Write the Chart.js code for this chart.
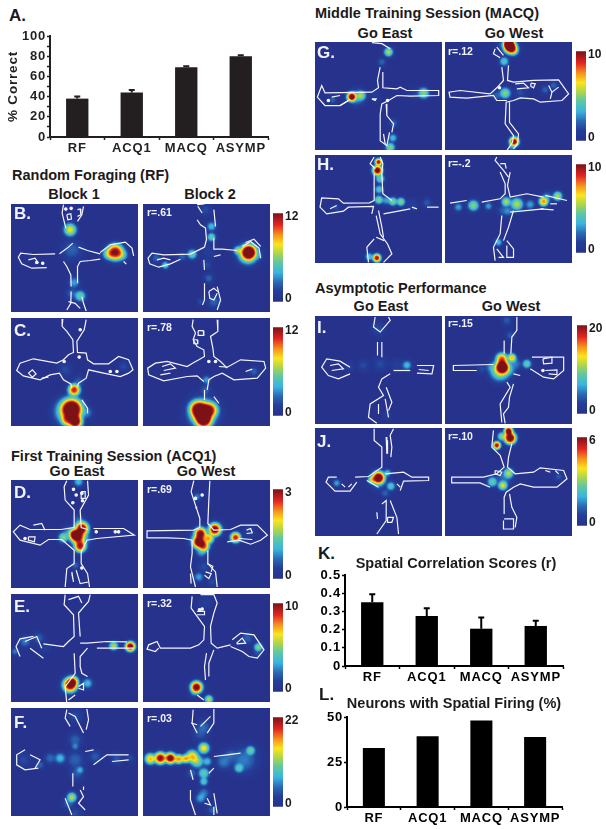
<!DOCTYPE html>
<html>
<head>
<meta charset="utf-8">
<style>
    html, body { margin: 0; background: #fff; }
    #fig { position: relative; width: 606px; height: 829px; overflow: hidden; font-family: "Liberation Sans", Arial, sans-serif; font-weight: bold; color: #1c1a1b; }
    #fig canvas { position: absolute; }
    #fig span { position: absolute; white-space: nowrap; line-height: 1; }
</style>
<script src="https://cdn.jsdelivr.net/npm/chart.js@4/dist/chart.umd.min.js"></script>
</head>
<body>
<div id="fig"></div>
<script>
    // bar panels
    const groups = ['RF', 'ACQ1', 'MACQ', 'ASYMP'];
    const correct = [38, 44, 69, 80];
    const correctTop = [40, 46.5, 70, 81];
    const spatialR = [0.35, 0.275, 0.205, 0.22];
    const spatialRTop = [0.394, 0.317, 0.266, 0.248];
    const neurons = [32.8, 39.3, 48.1, 38.9];

    // firing maps: outline runs are [x, y] tracker positions, a single pair is a dot
    // hot spots are [x, y, level, spread], level 1 = top of the colour bar
    const outlineB1 = [
        [[190,135],[186,160],[192,185],[197,205]], [[250,140],[245,165],[232,185]],
        [[200,165],[212,162],[214,178],[203,180],[200,165]], [[232,150],[240,148],[242,165],[232,170]],
        [[197,148]], [[213,146]], [[110,308]], [[128,310]],
        [[165,282],[100,284],[62,280],[55,292],[65,312],[95,325],[140,323]], [[85,300],[105,295],[115,310]],
        [[178,282],[205,262],[218,250]], [[235,262],[262,272],[300,282]],
        [[300,278],[330,255],[375,247],[395,265],[400,288]],
        [[190,305],[200,320],[212,345],[213,380]], [[213,395],[212,430],[200,450]],
        [[232,370],[232,320],[240,305],[270,302],[300,298]],
        [[245,410],[250,430],[258,453]], [[205,425],[225,430],[240,445]], [[370,305],[378,313]]
    ];
    const heatB1 = [[215,270,.2,40],[215,400,.2,20],[222,368,.3,18],[365,285,.4,20],[325,282,.5,20],[240,408,.45,18],[210,210,.62,22],[345,277,1,30]];

    const outlineB2 = [
        [[590,135],[612,133]], [[592,140],[605,160]], [[590,180],[600,195],[615,205],[618,240],[612,262]],
        [[640,150],[645,200]], [[640,235],[640,268],[665,268],[710,272]],
        [[612,262],[570,283],[490,285],[455,280],[443,295],[448,312],[475,322],[510,312],[540,298]],
        [[470,300],[490,295],[510,300]], [[725,260],[750,245],[775,265],[780,295]], [[735,248],[760,238],[780,260]],
        [[640,290],[660,285]], [[610,300],[612,330]], [[612,370],[612,420],[606,435]],
        [[625,395],[628,415],[640,420],[650,400]], [[650,380],[660,420],[650,450]], [[625,395],[640,385],[652,395]]
    ];
    const heatB2 = [[625,275,.12,28],[600,425,.15,8],[615,150,.15,20],[620,315,.15,14],[468,295,.2,14],[625,355,.2,14],[640,425,.2,22],[775,290,.2,10],[545,290,.2,14],[633,200,.35,14],[495,316,.4,10],[575,283,.45,15],[633,232,.45,12],[712,272,.5,12],[742,282,.75,38],[745,277,1.15,26]];

    const outlineC1 = [
        [[188,478],[186,500],[200,515],[218,540],[220,578],[205,585],[190,600],[170,610],[100,597],[60,610],[50,632],[70,648],[120,660],[150,645],[178,640],[190,660],[212,672],[215,685]],
        [[232,680],[235,670],[258,655],[265,630],[310,640],[360,650],[385,640],[398,630],[385,600],[355,590],[325,612],[280,612],[262,600],[258,580],[232,578],[230,545],[252,510],[258,480]],
        [[85,640],[97,630],[108,642],[97,652],[85,640]], [[125,655],[145,652]],
        [[245,720],[262,745],[262,760]], [[192,605]], [[237,592]], [[330,635]], [[350,635]], [[240,510]]
    ];
    const heatC1 = [[195,630,.15,25],[370,620,.15,15],[235,665,.18,20],[260,758,.25,20],[205,755,.6,55],[200,780,.7,20],[222,690,.9,20],[225,785,1.1,25],[215,748,1.25,42]];

    const outlineC2 = [
        [[578,480],[575,500],[585,520],[578,540],[590,560],[610,570],[612,590],[595,600],[580,608],[560,620],[500,605],[465,610],[442,625],[445,645],[490,663],[560,650],[590,648],[610,665]],
        [[612,690],[612,720]], [[650,480],[652,515],[630,530],[637,565],[640,590],[660,605],[680,625]],
        [[655,620],[680,622],[720,600],[790,605],[795,625],[770,655],[700,660],[665,640],[640,650],[625,660],[620,690]],
        [[485,620],[510,612],[525,625],[490,632]], [[480,645],[510,640]],
        [[593,513],[608,513],[610,527],[595,527],[593,513]], [[580,540],[590,540],[592,552],[580,552],[580,540]],
        [[625,605]], [[645,605]], [[735,635],[755,628]], [[640,710],[655,730]]
    ];
    const heatC2 = [[760,635,.2,14],[615,690,.2,18],[618,660,.3,12],[607,760,.55,62],[590,745,.8,30],[630,750,.8,28],[610,780,1.1,30],[605,757,1.2,40]];

    const outlineD1 = [
        [[200,122],[192,140],[195,180],[222,210],[222,262],[182,268],[90,268],[60,255],[40,275],[60,300],[120,315],[145,298],[185,298],[222,330],[222,370],[200,385],[195,440]],
        [[262,122],[265,165],[240,210],[243,262],[262,268]], [[280,265],[370,265],[402,285],[290,295],[260,300],[243,335],[243,370],[262,400],[268,440]],
        [[100,255],[125,250],[135,270]], [[85,290],[105,290],[103,305],[85,300],[85,290]],
        [[215,400],[220,425],[215,395]], [[228,390],[240,430],[265,425]],
        [[243,155],[255,155],[255,175],[243,175],[243,155]],
        [[220,148]], [[228,165]], [[245,160]], [[218,188]], [[247,182]], [[75,295]], [[288,275]], [[345,275]], [[355,275]], [[245,383]]
    ];
    const heatD1 = [[352,275,.12,10],[235,240,.2,20],[225,375,.2,12],[205,275,.25,20],[250,295,.3,30],[235,125,.35,15],[190,292,.5,16],[222,282,.9,18],[240,318,.95,20],[232,290,1.05,26],[245,265,1.05,24]];

    const outlineD2 = [
        [[580,122],[572,155],[585,195],[598,235],[598,262],[580,270],[440,272],[440,293],[500,293],[550,295],[575,300],[575,340],[570,380],[585,440]],
        [[628,122],[625,180],[622,250],[640,270],[690,268],[720,255],[770,255],[800,285],[780,300],[750,312],[715,300],[680,305]],
        [[622,330],[622,370],[645,395],[650,440]], [[738,270],[750,265],[755,278],[738,280]],
        [[615,395],[632,400],[625,415],[612,405]], [[620,370],[637,378],[632,395]], [[590,200],[585,205]],
        [[715,295],[755,298]], [[570,400],[572,430]], [[605,165]], [[585,175]]
    ];
    const heatD2 = [[745,275,.12,20],[610,380,.15,25],[635,425,.15,15],[590,170,.25,10],[595,410,.3,14],[603,335,.3,18],[600,300,.4,40],[625,295,.7,16],[610,318,.8,18],[705,292,.9,16],[600,280,1,20],[595,305,1.05,22],[643,268,1.05,22]];

    const outlineE1 = [
        [[195,465],[192,495],[220,525],[222,590],[205,605],[190,620],[130,612]], [[100,590],[60,597],[48,620],[60,650]],
        [[270,465],[265,485],[235,520],[240,590]], [[240,610],[260,610],[320,605],[380,606]], [[290,625],[400,625]],
        [[262,625],[240,650],[240,680],[245,700],[262,710]], [[222,640],[225,700],[195,740],[200,790]],
        [[205,480],[235,470],[245,490]], [[225,765],[205,780]], [[90,625],[130,655]], [[75,605],[110,590],[125,625]],
        [[235,740],[250,730],[250,750],[235,745]]
    ];
    const heatE1 = [[135,625,.12,15],[115,595,.2,20],[75,605,.25,18],[45,635,.25,8],[262,730,.35,16],[340,618,.55,13],[218,725,.8,18],[390,620,1.05,15],[210,735,1.05,26]];

    const outlineE2 = [
        [[575,470],[572,505],[590,530],[612,560],[610,600],[595,615],[570,625],[480,625],[470,605],[445,615],[440,628],[465,635],[475,625]],
        [[600,465],[640,465],[650,490],[640,520],[630,560],[632,610],[650,625],[690,615]],
        [[695,600],[720,580],[760,585],[790,630],[770,655],[745,650],[725,635],[690,620]],
        [[618,640],[612,680],[615,720]], [[640,630],[625,670],[625,710]], [[708,610],[725,595],[735,610],[708,612]],
        [[597,510]], [[605,508]], [[590,515],[612,515],[612,525],[590,525]], [[590,765],[610,780]]
    ];
    const heatE2 = [[615,490,.12,25],[770,640,.15,15],[740,595,.2,20],[580,760,.2,10],[773,622,.5,12],[625,778,.55,12],[588,742,1.05,20]];

    const outlineF1 = [
        [[200,810],[195,835],[210,860]], [[260,808],[265,840],[258,870]], [[205,820],[225,830],[240,860],[250,880]],
        [[218,1000],[218,1040]], [[195,1075],[205,1100],[215,1125]], [[240,1050],[250,1070],[235,1090],[255,1110]],
        [[75,930],[50,945],[50,975],[75,990],[115,985]], [[90,945],[120,960],[105,985]], [[255,935],[280,930]],
        [[280,975],[320,945],[385,945]], [[335,965],[385,960]], [[250,1040],[250,1050]]
    ];
    const heatF1 = [[70,960,.15,25],[225,830,.15,25],[225,1120,.15,20],[390,955,.15,12],[350,955,.17,20],[230,1000,.18,25],[285,950,.18,22],[225,960,.2,35],[225,900,.2,25],[205,1090,.2,20],[120,975,.2,12],[150,955,.22,18],[225,920,.25,10],[240,990,.3,10],[180,955,.35,18],[215,1072,.55,15]];

    const outlineF2 = [
        [[578,810],[575,850],[590,880]], [[640,808],[640,850],[620,880]], [[600,860],[630,830]], [[572,850],[590,855]],
        [[640,950],[680,945],[720,940]], [[625,1000],[640,985]], [[570,990],[578,1020]], [[570,1050],[570,1080],[585,1125]],
        [[620,1075],[630,1095],[612,1090]], [[640,1125],[640,1100]], [[640,1060],[650,1120]]
    ];
    const heatF2 = [[600,880,.18,30],[635,1110,.2,14],[610,860,.2,25],[690,945,.2,20],[575,1000,.2,15],[730,960,.25,55],[670,965,.25,30],[610,1060,.25,18],[600,1075,.3,16],[620,965,.35,14],[610,1025,.4,12],[715,985,.4,14],[610,1000,.45,18],[750,932,.45,14],[590,965,.5,22],[610,925,.65,18],[450,957,.7,18],[555,957,.7,12],[575,950,.7,22],[535,958,.75,14],[480,955,1,20],[510,955,1.05,18]];

    const outlineG1 = [
        [[215,127],[245,130],[270,145]], [[240,200],[232,240],[235,262],[215,275],[75,277],[65,255],[52,290],[75,315],[120,315],[150,297]],
        [[248,215],[248,262],[290,265],[300,260],[320,270],[415,270],[415,285],[330,287],[290,285],[265,300],[245,310],[240,340],[240,420],[260,435],[268,395]],
        [[258,310],[260,345],[280,370],[275,395]], [[250,400],[255,430]], [[95,290],[120,285]], [[145,300],[120,315]],
        [[215,295],[228,295],[225,300],[215,295]], [[85,300]], [[262,300]]
    ];
    const heatG1 = [[225,283,.1,20],[345,280,.12,20],[245,185,.2,12],[98,298,.2,10],[280,368,.2,12],[170,290,.3,30],[278,412,.35,12],[183,285,.5,15],[370,278,.5,18],[270,440,.5,14],[265,155,.55,13],[155,289,1.05,14]];

    const outlineG2 = [
        [[585,145],[580,160],[600,172]], [[590,140],[610,165]],
        [[605,200],[610,240],[590,262],[570,280],[480,270],[447,275],[450,290],[500,293],[580,285],[590,300],[620,300]],
        [[625,195],[622,240],[640,245],[700,240],[775,238],[805,280],[785,300],[720,305],[700,295],[660,292],[640,300],[618,305],[615,370],[640,405],[637,425],[620,450]],
        [[628,305],[628,365],[655,400],[652,430],[640,445]], [[645,250],[670,248],[685,262],[650,265]],
        [[692,248],[705,250],[700,262],[692,258],[692,248]], [[745,255],[755,275],[775,260]], [[755,275],[750,295]], [[598,262]]
    ];
    const heatG2 = [[600,135,.15,14],[660,275,.15,22],[590,285,.2,14],[735,268,.2,12],[760,255,.2,12],[635,440,.25,10],[612,183,.4,14],[615,278,.5,18],[640,150,.6,16],[642,423,1,14],[630,140,1.2,22],[625,130,1.2,16]];

    const outlineH1 = [
        [[222,470],[210,490],[225,505]], [[240,470],[248,490],[245,520],[248,580],[275,600]],
        [[222,520],[222,600],[208,607],[130,608],[115,595],[65,592],[60,620],[80,640],[130,632],[145,620],[220,618],[215,640]],
        [[235,630],[245,680],[250,710]], [[228,645],[240,700]], [[222,715],[200,740],[205,785]],
        [[240,700],[262,730],[275,760],[250,785]], [[228,710],[252,720]], [[90,625],[110,615]],
        [[335,620],[350,625]], [[380,620],[415,620]], [[250,640],[330,625]]
    ];
    const heatH1 = [[335,612,.12,20],[108,622,.15,10],[380,607,.18,14],[258,600,.3,12],[207,768,.4,10],[237,567,.4,12],[240,535,.45,13],[236,598,.5,12],[278,603,.5,12],[302,604,.5,12],[235,485,.95,8],[230,772,.95,11],[232,510,1.05,15]];

    const outlineH2 = [
        [[590,470],[585,480],[610,510],[625,530]], [[600,490],[615,490],[618,505]],
        [[600,515],[615,550],[615,580],[600,595],[545,605]], [[500,600],[450,608]],
        [[630,515],[622,555],[630,590],[680,580],[730,590]], [[735,585],[800,600]],
        [[605,645],[600,700],[580,740],[585,780]], [[640,630],[625,680],[610,720]],
        [[620,720],[640,745],[640,770],[620,770],[620,735]], [[590,745],[610,770],[595,770]],
        [[720,625],[760,628]], [[750,610],[770,610]], [[630,635],[730,625]]
    ];
    const heatH2 = [[610,630,.2,20],[625,632,.25,14],[740,590,.25,18],[475,620,.3,12],[565,617,.3,10],[690,612,.3,15],[595,725,.35,10],[520,615,.5,18],[618,604,.55,14],[650,611,.55,22],[772,587,.55,14],[730,603,.75,14]];

    const outlineI1 = [
        [[225,140],[220,170],[240,185],[270,150],[265,140]], [[232,215],[232,255]], [[245,215],[245,260]],
        [[150,290],[120,272],[80,265],[65,290],[85,315],[115,325],[150,310]], [[90,285],[115,280],[130,295],[95,300]],
        [[280,300],[330,300]], [[350,285],[400,285],[395,310],[350,308]], [[355,297],[385,300]],
        [[270,310],[245,325],[235,350],[250,375],[210,400],[205,440],[230,458]], [[258,350],[275,395],[265,420]],
        [[235,400],[235,430]], [[255,385],[265,440]]
    ];
    const heatI1 = [[260,435,.1,12],[150,288,.12,15],[290,285,.12,25],[240,280,.15,25],[190,285,.15,20],[235,175,.15,25],[320,284,.35,14]];

    const outlineI2 = [
        [[650,140],[650,180],[635,200],[632,250]], [[612,210],[612,250]], [[580,282],[460,285],[460,300],[530,300]],
        [[695,260],[790,260],[790,300],[760,325],[730,320],[690,295]], [[728,265],[755,260],[755,278],[730,280],[728,265]],
        [[735,300],[770,298],[770,312],[745,310]], [[728,300]], [[620,335],[630,350],[600,400],[605,455]],
        [[640,340],[628,380],[625,410],[610,430],[615,458]], [[640,310],[660,315]]
    ];
    const heatI2 = [[545,295,.15,15],[620,150,.18,16],[630,195,.18,12],[570,290,.22,14],[630,300,.25,20],[645,280,.25,22],[680,280,.45,13],[600,300,.6,40],[635,262,.7,12],[605,265,.8,20],[607,290,1.2,24]];

    const outlineJ1 = [
        [[222,475],[222,510],[245,530],[245,590],[205,618],[165,620]], [[110,620],[85,620],[78,635],[105,662],[150,662],[170,635]],
        [[280,475],[270,495],[275,530],[272,560]], [[258,500],[260,550]], [[262,510],[262,550]],
        [[255,610],[310,605],[335,620],[385,620],[385,630],[310,632],[300,660]], [[245,700],[258,690],[258,750],[230,790]],
        [[270,690],[290,740],[295,790]], [[125,640],[135,650]], [[145,650],[155,640]], [[230,725],[232,745]],
        [[262,740],[280,740],[275,755],[262,755],[262,740]], [[290,640],[300,650]], [[200,630],[235,650]]
    ];
    const heatJ1 = [[255,668,.2,12],[235,640,.2,25],[110,638,.3,10],[262,607,.35,9],[272,647,.4,13],[215,628,.6,10],[235,622,1.15,22]];

    const outlineJ2 = [
        [[580,480],[575,530],[600,555],[612,590],[590,610],[550,620],[455,620],[455,637],[540,637],[570,650]],
        [[635,520],[625,560],[622,590],[645,610],[700,605],[720,592],[790,600],[800,625],[770,650],[700,650],[660,640],[640,650],[618,665],[612,680],[612,730]],
        [[628,670],[635,710],[650,740],[645,770]], [[612,745],[640,745],[640,775],[610,775],[610,750]],
        [[735,600],[750,605]], [[765,600],[775,610]], [[585,600],[605,605],[600,615],[585,610],[585,600]]
    ];
    const heatJ2 = [[600,618,.15,14],[775,618,.18,10],[615,625,.2,25],[577,634,.45,16],[605,498,.5,12],[625,608,.55,16],[608,645,.6,14],[590,525,.95,10],[625,482,1.05,12],[630,503,1.1,20]];

    // left, top, tracker origin x, y
    const panels = [
        [11, 204, 33, 133, outlineB1, heatB1], [143, 204, 428, 133, outlineB2, heatB2],
        [11, 318, 33, 475, outlineC1, heatC1], [143, 318, 428, 475, outlineC2, heatC2],
        [11, 480, 33, 120, outlineD1, heatD1], [143, 480, 428, 120, outlineD2, heatD2],
        [11, 594, 33, 463, outlineE1, heatE1], [143, 594, 428, 463, outlineE2, heatE2],
        [11, 708, 33, 805, outlineF1, heatF1], [143, 708, 428, 805, outlineF2, heatF2],
        [315, 42, 45, 125, outlineG1, heatG1], [445, 42, 435, 125, outlineG2, heatG2],
        [315, 155, 45, 464, outlineH1, heatH1], [445, 155, 435, 464, outlineH2, heatH2],
        [315, 316, 45, 137, outlineI1, heatI1], [445, 316, 435, 137, outlineI2, heatI2],
        [315, 428, 45, 473, outlineJ1, heatJ1], [445, 428, 435, 473, outlineJ2, heatJ2]
    ];

    // left, top, height, max
    const colorBars = [
        [273, 204, 107, 12], [273, 318, 107, 12], [273, 480, 108, 3], [273, 594, 107, 10], [273, 708, 108, 22],
        [576, 42, 108, 10], [576, 155, 107, 10], [577, 316, 107, 20], [577, 428, 107, 6]
    ];

    // text, x, middle y, size, align (0 left, 1 centre)
    const titles = [
        ['A.', 9, 15, 17, 0], ['Random Foraging (RF)', 12, 175, 14.5, 0],
        ['Block 1', 74, 194, 14.5, 1], ['Block 2', 210, 194, 14.5, 1],
        ['First Training Session (ACQ1)', 11, 456, 14.5, 0], ['Go East', 77, 471, 14.5, 1], ['Go West', 206, 471, 14.5, 1],
        ['Middle Training Session (MACQ)', 315, 13, 14.5, 0], ['Go East', 385, 33, 14.5, 1], ['Go West', 514, 33, 14.5, 1],
        ['Asymptotic Performance', 315, 288, 14.5, 0], ['Go East', 381, 306, 14.5, 1], ['Go West', 511, 306, 14.5, 1],
        ['K.', 318, 553, 17, 0], ['Spatial Correlation Scores (r)', 456, 563, 14.5, 1],
        ['L.', 319, 694, 17, 0], ['Neurons with Spatial Firing (%)', 454, 703, 14.5, 1]
    ];
    const panelLetters = [
        ['B.', 14, 213], ['C.', 14, 330], ['D.', 14, 492], ['E.', 14, 606], ['F.', 14, 722],
        ['G.', 317, 52], ['H.', 317, 164], ['I.', 317, 327], ['J.', 317, 441]
    ];
    const rLabels = [
        ['r=.61', 147, 212], ['r=.78', 147, 327], ['r=.69', 147, 489], ['r=.32', 147, 603], ['r=.03', 147, 718],
        ['r=.12', 448, 51], ['r=-.2', 448, 163], ['r=.15', 448, 323], ['r=.10', 448, 436]
    ];

    // colour scale of the maps, low to high
    const jetStops = [
        [0, 38, 50, 140], [0.12, 36, 62, 152], [0.22, 44, 104, 180], [0.33, 58, 180, 226], [0.45, 96, 200, 160],
        [0.55, 176, 214, 72], [0.65, 250, 228, 30], [0.75, 246, 150, 30], [0.87, 226, 36, 34], [1, 122, 18, 22]
    ];
    const mapBlue = '#26328c';
    const inkColor = '#1c1a1b';

    Chart.defaults.font.family = '"Liberation Sans", Arial, sans-serif';
    Chart.defaults.font.weight = 'bold';
    Chart.defaults.color = inkColor;
    Chart.defaults.animation = false;
    Chart.defaults.events = [];
    Chart.defaults.plugins.legend.display = false;
    Chart.defaults.plugins.tooltip.enabled = false;

    const fig = document.getElementById('fig');

    function addCanvas(left, top, width, height) {
        const c = document.createElement('canvas');
        c.width = width;
        c.height = height;
        c.style.left = left + 'px';
        c.style.top = top + 'px';
        fig.appendChild(c);
        return c.getContext('2d');
    }

    function addText(text, x, midY, size, centred, color) {
        const s = document.createElement('span');
        s.textContent = text;
        s.style.left = x + 'px';
        s.style.top = (midY - size / 2) + 'px';
        s.style.fontSize = size + 'px';
        if (centred) s.style.transform = 'translateX(-50%)';
        if (color) s.style.color = color;
        fig.appendChild(s);
    }

    function jetColor(v) {
        v = Math.min(1, Math.max(0, v));
        for (let i = 1; i < jetStops.length; i++) {
            const a = jetStops[i - 1], b = jetStops[i];
            if (v <= b[0]) {
                const f = (v - a[0]) / (b[0] - a[0]);
                return [a[1] + (b[1] - a[1]) * f, a[2] + (b[2] - a[2]) * f, a[3] + (b[3] - a[3]) * f];
            }
        }
        return jetStops[jetStops.length - 1].slice(1);
    }

    // paints the hot spots as one merged field, using where the bubble elements were placed
    const firingField = {
        id: 'firingField',
        beforeDatasetsDraw(chart) {
            const a = chart.chartArea;
            const heatIndex = chart.data.datasets.length - 1;
            const spots = chart.getDatasetMeta(heatIndex).data.map(function (el, i) {
                return {x: el.x, y: el.y, r: el.options.radius, level: chart.data.datasets[heatIndex].data[i].level};
            });
            const w = Math.round(a.width), h = Math.round(a.height);
            const img = chart.ctx.createImageData(w, h);
            for (let j = 0; j < h; j++) {
                for (let i = 0; i < w; i++) {
                    let sum = 0;
                    spots.forEach(function (s) {
                        const d = Math.hypot(i + 0.5 + a.left - s.x, j + 0.5 + a.top - s.y) / s.r;
                        if (d < 2.2) sum += Math.pow(s.level * Math.exp(-2.8 * Math.pow(d, 2.4)), 2);
                    });
                    const rgb = jetColor(Math.sqrt(sum));
                    const k = (j * w + i) * 4;
                    img.data[k] = rgb[0];
                    img.data[k + 1] = rgb[1];
                    img.data[k + 2] = rgb[2];
                    img.data[k + 3] = 255;
                }
            }
            chart.ctx.putImageData(img, Math.round(a.left), Math.round(a.top));
        }
    };

    function addPanel(p) {
        const outlineSets = p[4].map(function (run) {
            return {
                data: run.map(function (q) { return {x: q[0], y: q[1]}; }),
                showLine: true,
                borderColor: '#f4f5fb',
                backgroundColor: '#f4f5fb',
                borderWidth: 1.2,
                pointRadius: run.length === 1 ? 1.2 : 0,
                clip: 0,
                order: 0
            };
        });
        const heatSet = {
            type: 'bubble',
            data: p[5].map(function (h) { return {x: h[0], y: h[1], r: (h[3] * 0.8 + 8) / 3 * 1.2, level: h[2]}; }),
            backgroundColor: 'transparent',
            borderWidth: 0,
            clip: 0,
            order: 1
        };
        new Chart(addCanvas(p[0], p[1], 127, 108), {
            type: 'scatter',
            data: {datasets: outlineSets.concat([heatSet])},
            options: {
                responsive: false,
                layout: {padding: 0, autoPadding: false},
                scales: {
                    x: {display: false, min: p[2], max: p[2] + 380},
                    y: {display: false, min: p[3], max: p[3] + 323, reverse: true}
                }
            },
            plugins: [firingField]
        });
    }

    function addColorBar(b) {
        new Chart(addCanvas(b[0], b[1], 32, b[2]), {
            type: 'bar',
            data: {
                labels: [''],
                datasets: [{
                    data: [b[3]],
                    barPercentage: 1,
                    categoryPercentage: 1,
                    backgroundColor: function (ctx) {
                        const a = ctx.chart.chartArea;
                        if (!a) return mapBlue;
                        const g = ctx.chart.ctx.createLinearGradient(0, a.bottom, 0, a.top);
                        jetStops.forEach(function (s) { g.addColorStop(s[0], 'rgb(' + s[1] + ',' + s[2] + ',' + s[3] + ')'); });
                        return g;
                    }
                }]
            },
            options: {
                responsive: false,
                scales: {
                    x: {display: false},
                    y: {
                        position: 'right',
                        min: 0,
                        max: b[3],
                        border: {display: false},
                        grid: {display: false, drawTicks: false},
                        afterBuildTicks(scale) { scale.ticks = [{value: b[3] * 0.04}, {value: b[3] * 0.96}]; },
                        afterFit(scale) { scale.width = 22; },
                        ticks: {
                            padding: 2,
                            font: {size: 12},
                            callback(v, i) { return i ? b[3] : 0; }
                        }
                    }
                }
            }
        });
    }

    const errorBars = {
        id: 'errorBars',
        afterDatasetsDraw(chart, args, opts) {
            if (!opts.tops) return;
            const c = chart.ctx, y = chart.scales.y;
            c.save();
            c.strokeStyle = opts.color;
            c.lineWidth = 2;
            chart.getDatasetMeta(0).data.forEach(function (bar, i) {
                const top = y.getPixelForValue(opts.tops[i]);
                c.beginPath();
                c.moveTo(bar.x, bar.y);
                c.lineTo(bar.x, top);
                c.moveTo(bar.x - 3, top);
                c.lineTo(bar.x + 3, top);
                c.stroke();
            });
            c.restore();
        }
    };

    const wideText = {
        id: 'wideText',
        afterInit(chart) { chart.ctx.letterSpacing = '0.8px'; }
    };

    function addBars(o) {
        const pad = 10;
        const width = o.axisRight - o.axisLeft + o.gutter + 20;
        const height = o.zeroY - o.topY + pad + 26;
        const yAxis = {
            min: 0,
            max: o.max,
            border: {color: o.color, width: 2},
            grid: {drawOnChartArea: false, tickLength: 3, tickColor: o.color, tickWidth: 1.5},
            afterFit(scale) { scale.width = o.gutter; },
            ticks: {
                stepSize: o.step,
                autoSkip: false,
                padding: 1,
                font: {size: 13},
                color: o.color,
                callback: o.tickLabel
            }
        };
        if (o.yTitle) yAxis.title = {display: true, text: o.yTitle, font: {size: 13.5}, padding: {top: 5, bottom: 0}, color: o.color};
        new Chart(addCanvas(o.axisLeft - o.gutter, o.topY - pad, width, height), {
            type: 'bar',
            data: {
                labels: groups,
                datasets: [{data: o.values, backgroundColor: o.color, barPercentage: 0.41, categoryPercentage: 1}]
            },
            options: {
                responsive: false,
                layout: {padding: {top: pad, right: 20, left: 0, bottom: 0}},
                plugins: {errorBars: {tops: o.tops, color: o.color}},
                scales: {
                    x: {
                        border: {color: o.color, width: 2},
                        grid: {drawOnChartArea: false, tickLength: 3, tickColor: o.color, tickWidth: 1.5},
                        afterFit(scale) { scale.height = 26; },
                        ticks: {padding: 1, font: {size: 13}, color: o.color, maxRotation: 0, autoSkip: false}
                    },
                    y: yAxis
                }
            },
            plugins: [errorBars, wideText]
        });
    }

    addBars({
        axisLeft: 50, axisRight: 268, topY: 36, zeroY: 137, gutter: 50, color: '#231f20',
        values: correct, tops: correctTop, max: 100, step: 10, yTitle: '% Correct',
        tickLabel(v) { return v % 20 === 0 ? v : ''; }
    });
    addBars({
        axisLeft: 345, axisRight: 563, topY: 575, zeroY: 666, gutter: 30, color: '#000',
        values: spatialR, tops: spatialRTop, max: 0.5, step: 0.1,
        tickLabel(v) { return v === 0 ? '0' : v.toFixed(1); }
    });
    addBars({
        axisLeft: 347, axisRight: 562, topY: 717, zeroY: 807, gutter: 30, color: '#000',
        values: neurons, max: 50, step: 25,
        tickLabel(v) { return v; }
    });

    panels.forEach(addPanel);
    colorBars.forEach(addColorBar);

    titles.forEach(function (t) { addText(t[0], t[1], t[2], t[3], t[4] === 1); });
    panelLetters.forEach(function (t) { addText(t[0], t[1], t[2], 17, false, '#f2f3fa'); });
    rLabels.forEach(function (t) { addText(t[0], t[1], t[2], 10.5, false, '#f2f3fa'); });
</script>
</body>
</html>
